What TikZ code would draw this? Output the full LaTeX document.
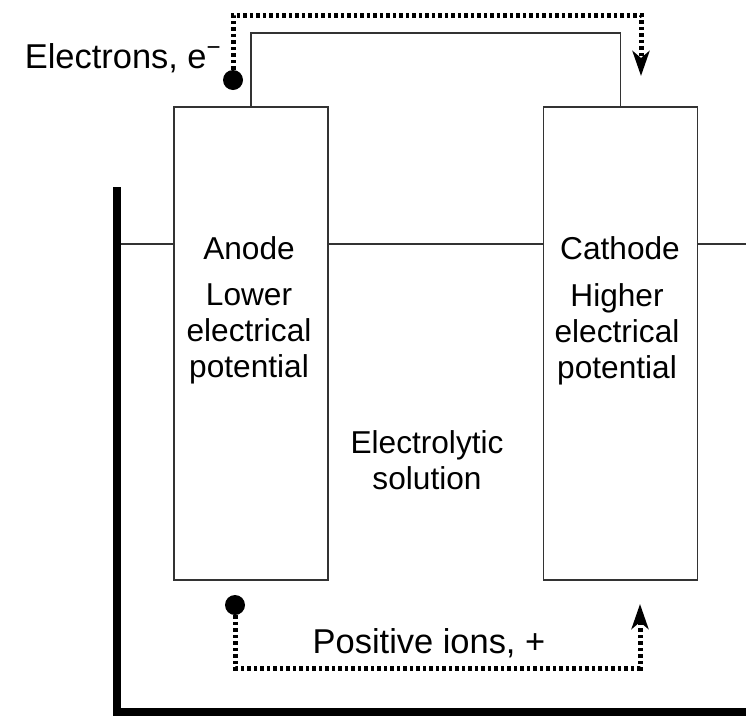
\documentclass[tikz,border=0pt]{standalone}
\usepackage{fontspec}
\setmainfont{Liberation Sans}
\usetikzlibrary{arrows.meta,positioning}

\begin{document}
\begin{tikzpicture}[
    x=0.2mm, y=-0.2mm,
    electrode/.style={draw=black!80, line width=0.3mm, minimum width=30.8mm, minimum height=94.6mm, inner sep=0pt},
    txt/.style={align=center, font=\fontsize{18}{20.5}\selectfont, inner sep=0pt},
    flowtxt/.style={txt, font=\fontsize{19.6}{22}\selectfont},
    wire/.style={draw=black!80, line width=0.3mm},
    flow/.style={line width=1mm, dash pattern=on 0.7mm off 0.6mm, -{Stealth[length=5mm, width=3.4mm, inset=1.4mm]}},
    blob/.style={circle, fill=black, minimum size=4mm, inner sep=0pt},
    wall/.style={line width=1.6mm}
]
\useasboundingbox (0,0) rectangle (746,715);

\node[electrode] (anode) at (251,343.5) {};
\node[electrode] (cathode) at (620.5,343.5) {};

\node[txt] (anodelbl) at (249,248) {Anode};
\node[txt] (lower) at (249,334) {Lower\\electrical\\potential};
\node[txt] (cathodelbl) at (620,248) {Cathode};
\node[txt] (higher) at (617,334) {Higher\\electrical\\potential};
\node[txt] (soln) at (427,460) {Electrolytic\\solution};
\node[flowtxt, anchor=east] (elec) at (222,58) {Electrons, e\textsuperscript{−}};
\node[flowtxt] (ions) at (429,643) {Positive ions, +};

% external wire
\coordinate (wiretop) at (0,33);
\draw[wire] (anode.north) -- (anode.north |- wiretop) -| (cathode.north);

% electrolyte level
\coordinate (lvl) at (120,244);
\coordinate (lvlr) at (746,244);
\draw[wire] (lvl) -- (anode.west |- lvl);
\draw[wire] (anode.east |- lvl) -- (cathode.west |- lvl);
\draw[wire] (cathode.east |- lvl) -- (lvlr);

% container
\coordinate (walltop) at (117,187);
\coordinate (wallend) at (746,712);
\draw[wall] (walltop) |- (wallend);

% electron flow
\node[blob] (edot) at (233,80) {};
\coordinate (ecorner) at (641,15);
\coordinate (etip) at (641,76);
\draw[flow] (edot.north) |- (ecorner) -- (etip);

% ion flow
\node[blob] (idot) at (235,605) {};
\coordinate (icorner) at (640,668);
\coordinate (itip) at (640,604);
\draw[flow] (idot.south) |- (icorner) -- (itip);
\end{tikzpicture}
\end{document}
